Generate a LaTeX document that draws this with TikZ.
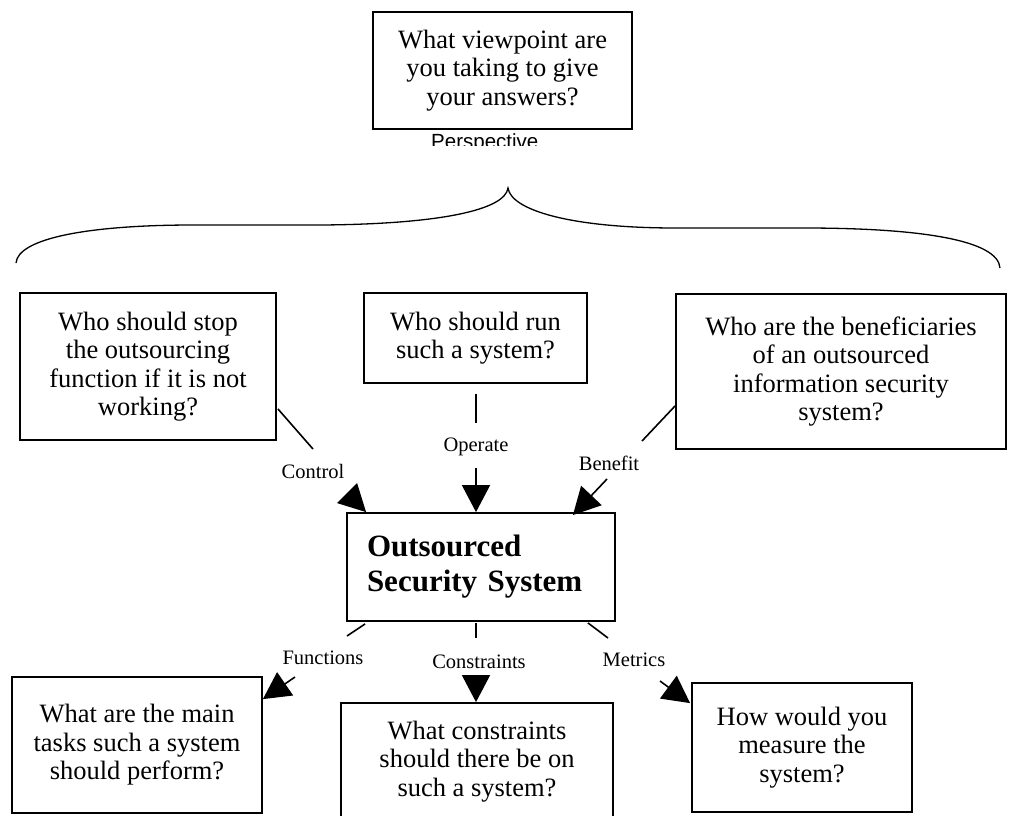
\documentclass[tikz,border=0pt]{standalone}
\usepackage{fontspec}
\setmainfont{Liberation Serif}
\newfontfamily\perspfont{Liberation Sans}
\usetikzlibrary{calc,arrows.meta}
\tikzset{
  > = {Triangle[length=27pt,width=28pt]},
  qbox/.style = {draw, line width=1.8pt, align=center, inner sep=0pt,
                 font=\fontsize{26.5}{28.5}\selectfont},
  linklabel/.style = {inner sep=0pt, font=\fontsize{20.5}{22}\selectfont},
  link/.style = {line width=1.6pt},
}

\begin{document}
\begin{tikzpicture}[x=1pt, y=-1pt]
  \useasboundingbox (0,0) rectangle (1009,815);

  %% perspective question and brace
  \node[qbox, minimum width=259pt, minimum height=117pt] (viewpoint) at (502.5,70.5)
    {What viewpoint are\\you taking to give\\your answers?};
  \begin{scope}
    \clip (420,130) rectangle (560,145.5);
    \node[anchor=north west, inner sep=0pt, font=\perspfont\fontsize{20.5}{22}\selectfont]
      (persp) at (431,133) {Perspective};
  \end{scope}
  \draw[line width=1.3pt] (16,263) .. controls (18,238) and (90,225) .. (193,225)
    -- (322,225) .. controls (440,224) and (505,210) .. (508,188)
    .. controls (511,210) and (570,228) .. (676,228)
    -- (804,228) .. controls (920,228) and (998,240) .. (1000,268);

  %% upper questions
  \node[qbox, minimum width=256pt, minimum height=147pt] (stopq) at (148,366.5)
    {Who should stop\\the outsourcing\\function if it is not\\working?};
  \node[qbox, minimum width=223pt, minimum height=90pt] (runq) at (475.5,338)
    {Who should run\\such a system?};
  \node[qbox, minimum width=330pt, minimum height=155pt] (benefitq) at (841,371.5)
    {Who are the beneficiaries\\of an outsourced\\information security\\system?};

  %% the system itself
  \node[qbox, minimum width=268pt, minimum height=108pt, text width=228pt, align=left,
        font=\fontsize{31}{35}\selectfont\bfseries] (oss) at (481,567)
    {Outsourced\\Security System};

  %% lower questions
  \node[qbox, minimum width=250pt, minimum height=136pt] (tasksq) at (137,745)
    {What are the main\\tasks such a system\\should perform?};
  \node[qbox, minimum width=272pt, minimum height=117pt] (constraintq) at (477,761.5)
    {What constraints\\should there be on\\such a system?};
  \node[qbox, minimum width=220pt, minimum height=129pt] (measureq) at (802,747.5)
    {How would you\\measure the\\system?};

  %% free ends of the broken links
  \coordinate (ctrl1) at (313,449);
  \coordinate (ctrl2) at (348,494);
  \coordinate (oper1) at (476,423);
  \coordinate (oper2) at (476,468);
  \coordinate (bene1) at (642,441);
  \coordinate (bene2) at (607,479);
  \coordinate (func1) at (347,636);
  \coordinate (func2) at (295,677);
  \coordinate (cons1) at (476,638);
  \coordinate (cons2) at (476,680);
  \coordinate (metr1) at (608,638);
  \coordinate (metr2) at (660,681);

  % control
  \draw[link] ($(stopq.south east)+(1,-32)$) -- (ctrl1);
  \node[linklabel] (ctrl) at (313,471) {Control};
  \draw[link, ->] (ctrl2) -- ($(oss.north west)+(20,0)$);

  % operate
  \draw[link] ($(runq.south)+(0.5,10)$) -- (oper1);
  \node[linklabel] (oper) at (476,447) {Operate};
  \draw[link, ->] (oper2) -- (oper2 |- oss.north);

  % benefit
  \draw[link] ($(benefitq.south west)+(0,-44)$) -- (bene1);
  \node[linklabel] (bene) at (609,463) {Benefit};
  \draw[link, ->] (bene2) -- ($(oss.north east)+(-43,3)$);

  % functions
  \draw[link] ($(oss.south west)+(19,2)$) -- (func1);
  \node[linklabel] (func) at (323,658) {Functions};
  \draw[link, ->] (func2) -- ($(tasksq.north east)+(0,23)$);

  % constraints
  \draw[link] ($(oss.south)+(-5,1)$) -- (cons1);
  \node[linklabel] (cons) at (479,662) {Constraints};
  \draw[link, ->] (cons2) -- (cons2 |- constraintq.north);

  % metrics
  \draw[link] ($(oss.south east)+(-28,1)$) -- (metr1);
  \node[linklabel] (metr) at (634,660) {Metrics};
  \draw[link, ->] (metr2) -- ($(measureq.north west)+(-1,21)$);
\end{tikzpicture}
\end{document}
